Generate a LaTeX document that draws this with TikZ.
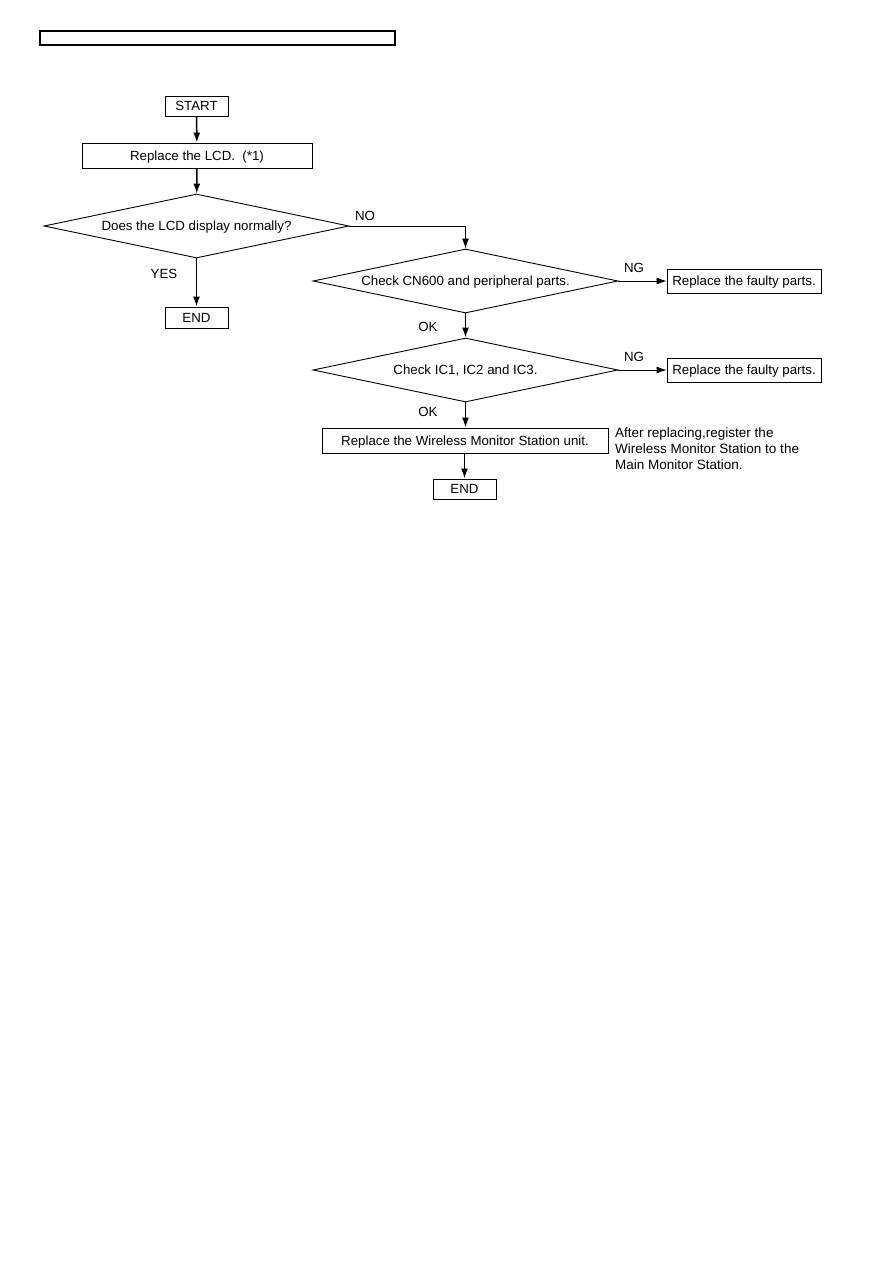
\documentclass[tikz,border=0pt]{standalone}
\usepackage{fontspec}
\setmainfont{Liberation Sans}
\usetikzlibrary{shapes.geometric, arrows.meta}
\tikzset{>={Latex[length=10pt, width=7pt]}}

\begin{document}
\begin{tikzpicture}[x=1pt, y=-1pt,
    every node/.style={font=\fontsize{13.3}{16.3}\selectfont},
    box/.style={draw, line width=0.9pt, inner sep=0pt, text height=9.5pt, text depth=0.5pt},
    decision/.style={draw, diamond, aspect=4.77, line width=0.9pt, inner sep=0pt,
      text height=9.5pt, text depth=0.5pt, minimum width=305pt, minimum height=64pt},
    flow/.style={->, line width=1.5pt},
    side/.style={->, line width=0.8pt}]

    \useasboundingbox (0, 0) rectangle (893, 1263);

    \node[box, line width=1.4pt, minimum width=355pt, minimum height=14pt] (header) at (217.5, 38) {};

    % left branch
    \node[box, minimum width=63pt, minimum height=20pt] (start) at (196.5, 106) {START};
    \node[box, minimum width=230pt, minimum height=25pt] (lcd) at (197, 155.5) {Replace the LCD.~~(*1)};
    \node[decision] (normal) at (196.5, 226) {Does the LCD display normally?};
    \node[box, minimum width=63pt, minimum height=21pt] (end1) at (196.5, 317.5) {END};

    \draw[flow] (start) -- (lcd);
    \draw[flow] (lcd) -- (normal);
    \draw[flow] (normal) -- (end1);
    \node (yes) at (164, 274) {YES};

    % right branch
    \node[decision] (cn600) at (465.5, 281) {Check CN600 and peripheral parts.};
    \node[decision] (ic) at (465.5, 370) {Check IC1, IC2 and IC3.};
    \node[box, minimum width=154pt, minimum height=24pt] (faulty1) at (744, 281) {Replace the faulty parts.};
    \node[box, minimum width=154pt, minimum height=24pt] (faulty2) at (744, 370) {Replace the faulty parts.};
    \node[box, minimum width=286pt, minimum height=25pt] (wms) at (465, 440.5) {Replace the Wireless Monitor Station unit.};
    \node[box, minimum width=63pt, minimum height=20pt] (end2) at (464.5, 489) {END};

    \draw[side] (normal.east) -| (cn600.north);
    \node (no) at (365, 216) {NO};
    \draw[side] (cn600) -- (faulty1);
    \node (ng1) at (634, 268) {NG};
    \draw[flow] (cn600) -- (ic);
    \node (ok1) at (428, 327) {OK};
    \draw[side] (ic) -- (faulty2);
    \node (ng2) at (634, 357) {NG};
    \draw[flow] (ic.south) -- (ic.south |- wms.north);
    \node (ok2) at (428, 412) {OK};
    \draw[flow] (wms.south -| end2) -- (end2);

    \node[anchor=north west, align=left, inner sep=0pt, font=\fontsize{13.5}{16}\selectfont] (note) at (615, 428)
      {After replacing,register the\\Wireless Monitor Station to the\\Main Monitor Station.};

\end{tikzpicture}
\end{document}
